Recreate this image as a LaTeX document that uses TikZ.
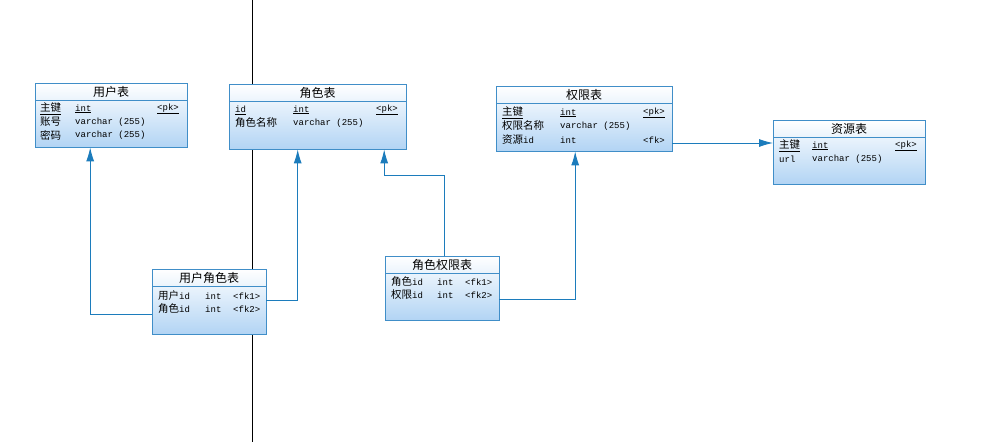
\documentclass[tikz,border=0pt]{standalone}
\usepackage{fontspec}
\setmainfont{Liberation Mono}
\newfontfamily\cjk{Noto Sans CJK SC}
\usetikzlibrary{calc,arrows.meta}
\newcommand{\zh}[1]{{\cjk\fontsize{10.5}{11}\selectfont #1}}
\definecolor{tblline}{RGB}{64,142,200}
\definecolor{tblfill}{RGB}{178,212,244}
\definecolor{linkblue}{RGB}{28,124,188}

\begin{document}
\begin{tikzpicture}[x=1pt, y=-1pt, font=\fontsize{9}{10}\selectfont]
%styles des tables
\tikzstyle{tbl}=[rectangle, draw=tblline, top color=white, bottom color=tblfill, anchor=north west, inner sep=0pt]
\tikzstyle{title}=[rectangle, text=black, inner sep=0pt, font=\cjk\fontsize{12}{12}\selectfont]
\tikzstyle{row}=[rectangle, text=black, anchor=west, inner sep=0pt]
\tikzstyle{sep}=[tblline]
\tikzstyle{link}=[-{Latex[length=14pt,width=8pt]}, linkblue, line width=0.9pt]

\useasboundingbox (0,0) rectangle (1003,442);

%vertical line
\coordinate (vtop) at (252.5,0);
\coordinate (vbot) at (252.5,442);
\draw[black] (vtop) -- (vbot);

%用户表
\node[tbl, minimum width=152pt, minimum height=64pt] (yh) at (35,83) {};
\node[title] (yhT) at ($(yh.north)+(0,8.5)$) {用户表};
\draw[sep] ($(yh.north west)+(0,17)$) -- ($(yh.north east)+(0,17)$);
\node[row] (yh1) at (40,109) {\underline{\zh{主键}}};
\node[row] (yh1t) at (75,109) {\underline{int}};
\node[row] (yh1k) at (157,109) {\underline{<pk>}};
\node[row] (yh2) at (40,122) {\zh{账号}};
\node[row] (yh2t) at (75,122) {varchar (255)};
\node[row] (yh3) at (40,135) {\zh{密码}};
\node[row] (yh3t) at (75,135) {varchar (255)};

%角色表
\node[tbl, minimum width=177pt, minimum height=65pt] (js) at (229,84) {};
\node[title] (jsT) at ($(js.north)+(0,8.5)$) {角色表};
\draw[sep] ($(js.north west)+(0,17)$) -- ($(js.north east)+(0,17)$);
\node[row] (js1) at (235,110) {\underline{id}};
\node[row] (js1t) at (293,110) {\underline{int}};
\node[row] (js1k) at (376,110) {\underline{<pk>}};
\node[row] (js2) at (235,123) {\zh{角色名称}};
\node[row] (js2t) at (293,123) {varchar (255)};

%权限表
\node[tbl, minimum width=176pt, minimum height=65pt] (qx) at (496,86) {};
\node[title] (qxT) at ($(qx.north)+(0,8.5)$) {权限表};
\draw[sep] ($(qx.north west)+(0,17)$) -- ($(qx.north east)+(0,17)$);
\node[row] (qx1) at (502,113) {\underline{\zh{主键}}};
\node[row] (qx1t) at (560,113) {\underline{int}};
\node[row] (qx1k) at (643,113) {\underline{<pk>}};
\node[row] (qx2) at (502,126) {\zh{权限名称}};
\node[row] (qx2t) at (560,126) {varchar (255)};
\node[row] (qx3) at (502,140) {\zh{资源}id};
\node[row] (qx3t) at (560,140) {int};
\node[row] (qx3k) at (643,140) {<fk>};

%资源表
\node[tbl, minimum width=152pt, minimum height=64pt] (zy) at (773,120) {};
\node[title] (zyT) at ($(zy.north)+(0,8.5)$) {资源表};
\draw[sep] ($(zy.north west)+(0,17)$) -- ($(zy.north east)+(0,17)$);
\node[row] (zy1) at (779,146) {\underline{\zh{主键}}};
\node[row] (zy1t) at (812,146) {\underline{int}};
\node[row] (zy1k) at (895,146) {\underline{<pk>}};
\node[row] (zy2) at (779,159) {url};
\node[row] (zy2t) at (812,159) {varchar (255)};

%用户角色表
\node[tbl, minimum width=114pt, minimum height=65pt] (yj) at (152,269) {};
\node[title] (yjT) at ($(yj.north)+(0,8.5)$) {用户角色表};
\draw[sep] ($(yj.north west)+(0,17)$) -- ($(yj.north east)+(0,17)$);
\node[row] (yj1) at (158,296) {\zh{用户}id};
\node[row] (yj1t) at (205,296) {int};
\node[row] (yj1k) at (233,296) {<fk1>};
\node[row] (yj2) at (158,309) {\zh{角色}id};
\node[row] (yj2t) at (205,309) {int};
\node[row] (yj2k) at (233,309) {<fk2>};

%角色权限表
\node[tbl, minimum width=114pt, minimum height=64pt] (jq) at (385,256) {};
\node[title] (jqT) at ($(jq.north)+(0,8.5)$) {角色权限表};
\draw[sep] ($(jq.north west)+(0,17)$) -- ($(jq.north east)+(0,17)$);
\node[row] (jq1) at (391,282) {\zh{角色}id};
\node[row] (jq1t) at (437,282) {int};
\node[row] (jq1k) at (465,282) {<fk1>};
\node[row] (jq2) at (391,295) {\zh{权限}id};
\node[row] (jq2t) at (437,295) {int};
\node[row] (jq2k) at (465,295) {<fk2>};

%references
\draw[link] (yj.west |- 0,314) -| ($(yh.south)+(-21,0)$);
\draw[link] (yj.east |- 0,300) -| ($(js.south)+(-20,0)$);
\draw[link] ($(jq.north)+(2,0)$) |- ($(js.south)+(66.5,26)$) -- ($(js.south)+(66.5,0)$);
\draw[link] (jq.east |- 0,299) -| ($(qx.south)+(-9,0)$);
\draw[link] (qx.east |- 0,143) -- (zy.west |- 0,143);

\end{tikzpicture}
\end{document}
